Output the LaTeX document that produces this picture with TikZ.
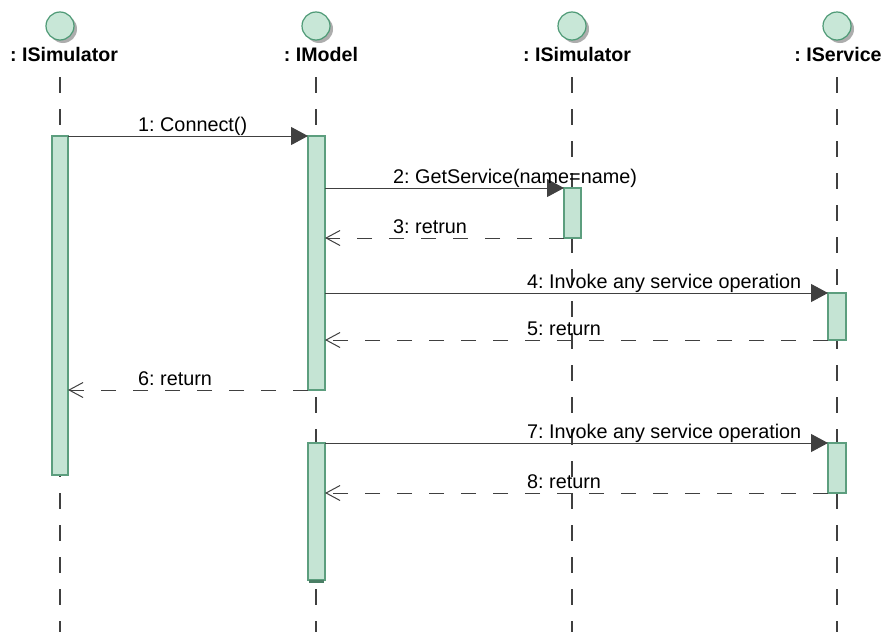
\documentclass[tikz,border=0pt]{standalone}
\usepackage{fontspec}
\setmainfont{Liberation Sans}
\frenchspacing
\usetikzlibrary{arrows.meta}
\definecolor{actfill}{HTML}{C5E4D4}
\definecolor{actdraw}{HTML}{5C9E7E}
\definecolor{headfill}{HTML}{C8E7D7}
\definecolor{headdraw}{HTML}{4E9A76}
\definecolor{ink}{HTML}{404040}
\tikzset{
  lifeline/.style={draw=ink, line width=1.1pt, dash pattern=on 16pt off 16pt},
  actbox/.style={draw=actdraw, fill=actfill, line width=1.1pt, inner sep=0pt, outer sep=0pt, minimum width=17pt, anchor=north west},
  headcirc/.style={circle, draw=headdraw, fill=headfill, line width=1.2pt, minimum size=28pt, inner sep=0pt},
  headshadow/.style={circle, fill=black!32, minimum size=28pt, inner sep=0pt},
  headlbl/.style={font=\fontsize{19.6}{22}\selectfont\bfseries\frenchspacing, anchor=base, inner sep=0pt},
  msglbl/.style={font=\fontsize{19.8}{22}\selectfont\frenchspacing, anchor=base west, inner sep=0pt},
  call/.style={draw=ink, line width=1pt, -{Triangle[length=17pt,width=18pt]}},
  reply/.style={draw=ink, line width=1pt, dash pattern=on 15pt off 17pt, -{Straight Barb[length=14pt,width=15pt,line width=1pt]}}
}
\begin{document}
\begin{tikzpicture}[x=1pt,y=-1pt]
\useasboundingbox (0,0) rectangle (888,632);
\fill[white] (0,0) rectangle (888,632);
% heads
\foreach \n/\x in {p/60, q/316, r/572, s/837}{
  \node[headshadow] at (\x+3,29) {};
  \node[headcirc] (c\n) at (\x,26) {};
  \coordinate (t\n) at (\x,77);
  \coordinate (b\n) at (\x,632);
  \draw[lifeline] (t\n) -- (b\n);
}
\node[headlbl] (lp) at (64,61) {: ISimulator};
\node[headlbl] (lq) at (321,61) {: IModel};
\node[headlbl] (lr) at (577,61) {: ISimulator};
\node[headlbl] (ls) at (838,61) {: IService};
% activations
\node[actbox, minimum width=16pt, minimum height=339pt] (a1) at (52,136) {};
\node[actbox, minimum height=254pt] (m1) at (308,136) {};
\node[actbox, minimum height=137pt] (m2) at (308,443) {};
\draw[actdraw!80!black, line width=2.5pt] ([xshift=1pt,yshift=-1.5pt]m2.south west) -- ([xshift=-1pt,yshift=-1.5pt]m2.south east);
\node[actbox, minimum height=50pt] (s1) at (564,188) {};
\node[actbox, minimum width=18pt, minimum height=47pt] (v1) at (828,293) {};
\node[actbox, minimum width=18pt, minimum height=50pt] (v2) at (828,443) {};
% messages
\draw[call] (a1.north east) -- (m1.north west);
\draw[call] (m1.east |- s1.north) -- (s1.north west);
\draw[reply] (s1.south west) -- (m1.east |- s1.south);
\draw[call] (m1.east |- v1.north) -- (v1.north west);
\draw[reply] (v1.south west) -- (m1.east |- v1.south);
\draw[reply] (m1.south west) -- (a1.east |- m1.south);
\draw[call] (m2.north east) -- (v2.north west);
\draw[reply] (v2.south west) -- (m2.east |- v2.south);
% labels
\node[msglbl] (n1) at (138,131) {1: Connect()};
\node[msglbl] (n2) at (393,183) {2: GetService(name=name)};
\node[msglbl] (n3) at (393,233) {3: retrun};
\node[msglbl] (n4) at (527,288) {4: Invoke any service operation};
\node[msglbl] (n5) at (527,335) {5: return};
\node[msglbl] (n6) at (138,385) {6: return};
\node[msglbl] (n7) at (527,438) {7: Invoke any service operation};
\node[msglbl] (n8) at (527,488) {8: return};
\end{tikzpicture}
\end{document}
